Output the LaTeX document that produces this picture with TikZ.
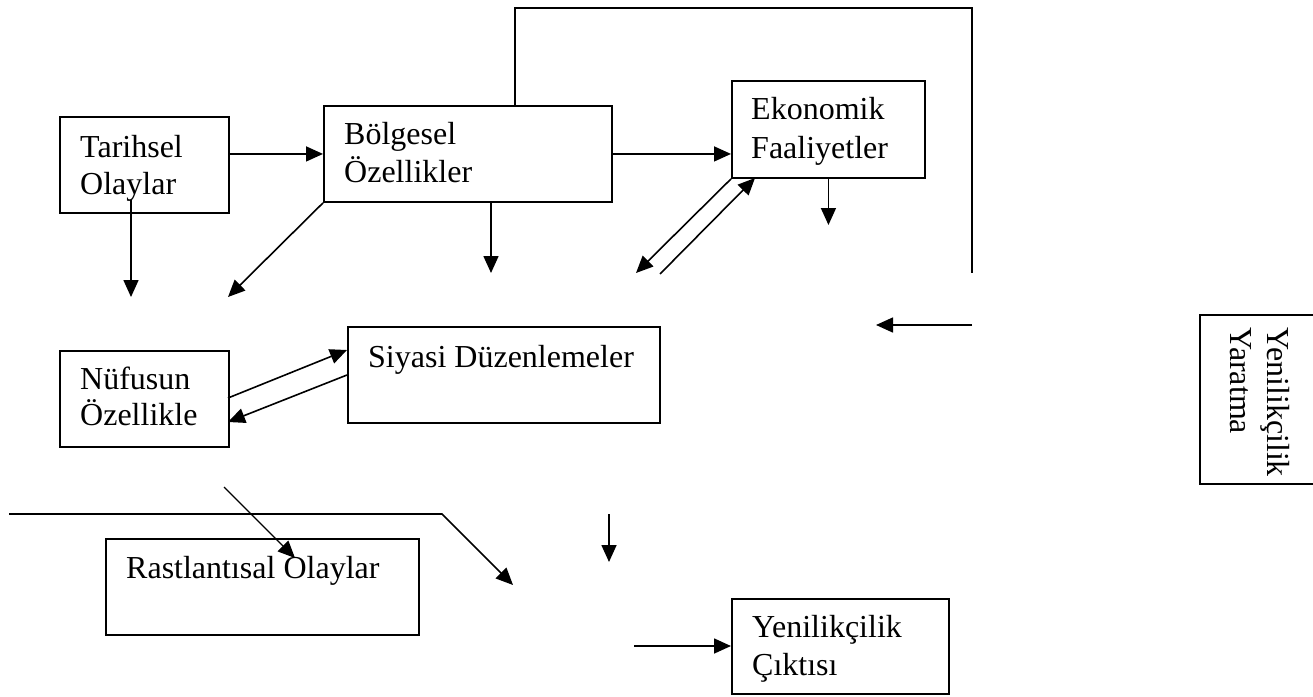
\documentclass[tikz,border=0pt]{standalone}
\usepackage{fontspec}
\setmainfont{Liberation Serif}
\usetikzlibrary{arrows.meta}
\begin{document}
\begin{tikzpicture}[x=1pt,y=-1pt,
  kutu/.style={draw, line width=1.9pt, inner sep=0pt, anchor=north west},
  yazi/.style={anchor=base west, inner sep=0pt, font=\fontsize{32}{38}\selectfont},
  ok/.style={line width=1.6pt, -{Triangle[length=17pt,width=15pt]}},
  cizgi/.style={line width=1.6pt}]
\useasboundingbox (0,0) rectangle (1313,696);
% kutular
\node [kutu, minimum width=169pt, minimum height=96pt] (tarihsel) at (59,116) {};
\node [kutu, minimum width=288pt, minimum height=96pt] (bolgesel) at (323,105) {};
\node [kutu, minimum width=193pt, minimum height=97pt] (ekonomik) at (731,80) {};
\node [kutu, minimum width=169pt, minimum height=96pt] (nufus) at (59,350) {};
\node [kutu, minimum width=312pt, minimum height=96pt] (siyasi) at (347,326) {};
\node [kutu, minimum width=313pt, minimum height=96pt] (rast) at (105,538) {};
\node [kutu, minimum width=217pt, minimum height=95pt] (cikti) at (731,598) {};
\node [kutu, minimum width=130pt, minimum height=169pt] (yaratma) at (1199,314) {};
% yazilar
\node [yazi] (tarihsel1) at (80,157) {Tarihsel};
\node [yazi] (tarihsel2) at (80,194) {Olaylar};
\node [yazi] (bolgesel1) at (344,144) {Bölgesel};
\node [yazi] (bolgesel2) at (344,182) {Özellikler};
\node [yazi] (ekonomik1) at (751,119) {Ekonomik};
\node [yazi] (ekonomik2) at (751,158) {Faaliyetler};
\node [yazi] (nufus1) at (80,389) {Nüfusun};
\node [yazi] (nufus2) at (80,425) {Özellikle};
\node [yazi] (siyasi1) at (368,367) {Siyasi Düzenlemeler};
\node [yazi] (rast1) at (126,578) {Rastlantısal Olaylar};
\node [yazi] (cikti1) at (752,637) {Yenilikçilik};
\node [yazi] (cikti2) at (752,675) {Çıktısı};
\node [yazi, rotate=-90] (yaratma1) at (1267,327) {Yenilikçilik};
\node [yazi, rotate=-90] (yaratma2) at (1230,327) {Yaratma};
% serbest uclar
\coordinate (tarihselalt) at (131,200);
\coordinate (tarihselok) at (131,297);
\coordinate (nufusok) at (228,297);
\coordinate (bolgeselok) at (491,273);
\coordinate (ekoalt) at (636,273);
\coordinate (ekoust) at (660,274);
\coordinate (ekoucu) at (755,178);
\coordinate (ekook) at (827,225);
\coordinate (ustbas) at (515,105);
\coordinate (ustsag) at (972,8);
\coordinate (ustson) at (972,273);
\coordinate (solokbas) at (972,325);
\coordinate (solokuc) at (876,325);
\coordinate (nufusdis) at (228,398);
\coordinate (siyasigir) at (347,350);
\coordinate (siyasicik) at (347,375);
\coordinate (nufusgir) at (228,422);
\coordinate (incebas) at (224,487);
\coordinate (inceuc) at (295,558);
\coordinate (cizgibas) at (9,514);
\coordinate (cizgikose) at (442,514);
\coordinate (cizgiuc) at (513,585);
\coordinate (asagibas) at (609,514);
\coordinate (asagiuc) at (609,562);
\coordinate (ciktibas) at (634,646);
% baglantilar
\draw [ok] (tarihsel.east |- bolgesel.west) -- (bolgesel.west);
\draw [ok] (bolgesel.east) -- (bolgesel.east -| ekonomik.west);
\draw [ok] (tarihselalt) -- (tarihselok);
\draw [ok] (bolgesel.south west) -- (nufusok);
\draw [ok] (bolgesel.south -| bolgeselok) -- (bolgeselok);
\draw [ok] (ekonomik.south west) -- (ekoalt);
\draw [ok] (ekoust) -- (ekoucu);
\draw [ok] (ekonomik.south) -- (ekonomik.south |- ekook);
\draw [cizgi] (ustbas) |- (ustsag) -- (ustson);
\draw [ok] (solokbas) -- (solokuc);
\draw [ok] (nufusdis) -- (siyasigir);
\draw [ok] (siyasicik) -- (nufusgir);
\draw [ok, line width=1.1pt] (incebas) -- (inceuc);
\draw [ok] (cizgibas) -- (cizgikose) -- (cizgiuc);
\draw [ok] (asagibas) -- (asagiuc);
\draw [ok] (ciktibas) -- (ciktibas -| cikti.west);
\end{tikzpicture}
\end{document}
